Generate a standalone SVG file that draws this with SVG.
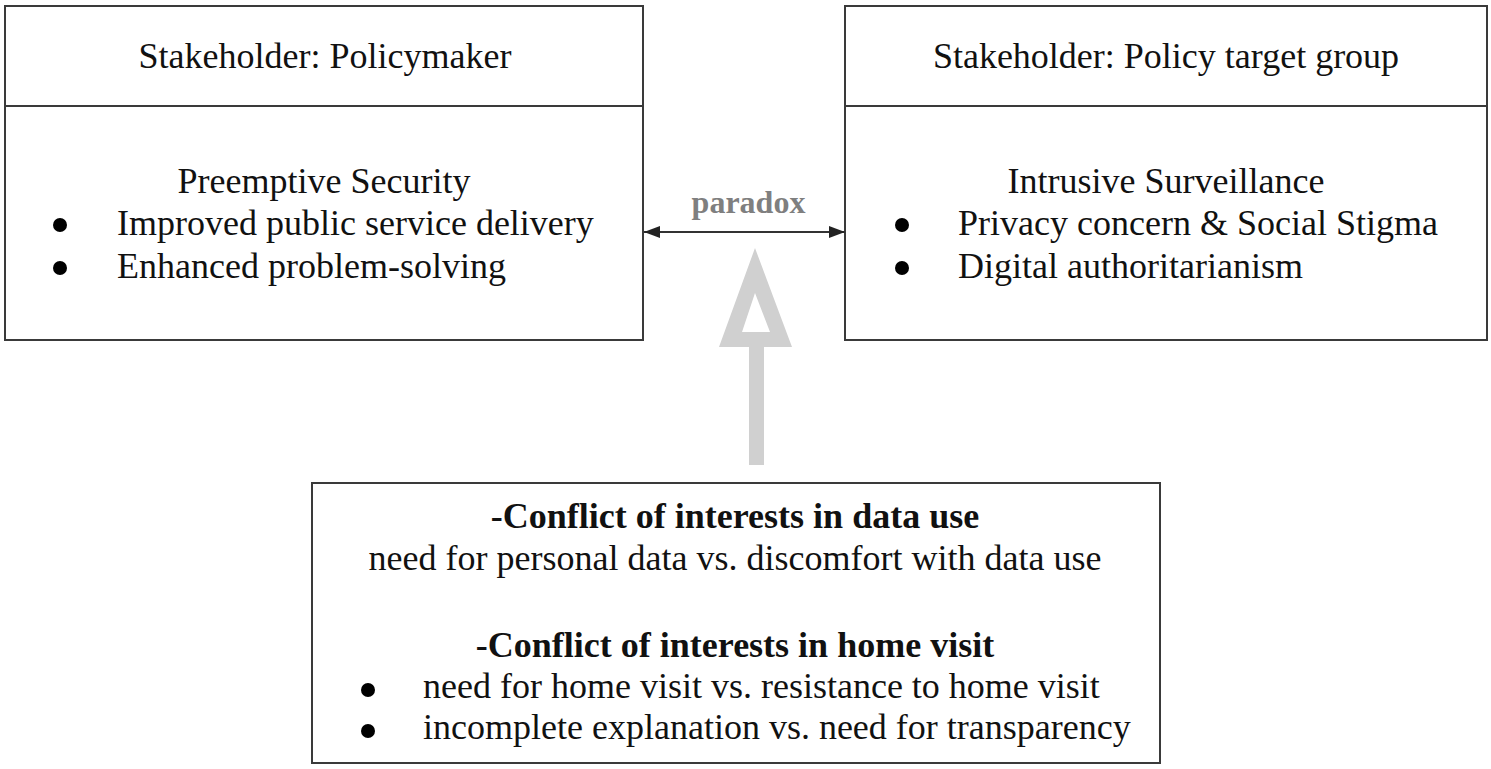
<svg xmlns="http://www.w3.org/2000/svg" width="1491" height="769" viewBox="0 0 1491 769">
<style>
  .box { fill: #ffffff; stroke: #3a3a3a; stroke-width: 2; }
  .div { stroke: #3a3a3a; stroke-width: 2; }
  .t { font-family: "Liberation Serif", "Times New Roman", serif; font-size: 36px; fill: #111111; }
  .b { font-weight: bold; }
  .c { text-anchor: middle; }
  .dot { fill: #000000; }
  .lbl { font-family: "Liberation Serif", "Times New Roman", serif; font-size: 32px; font-weight: bold; fill: #7f7f7f; }
</style>
<defs>
  <marker id="ah" viewBox="0 0 16 12" refX="16" refY="6" markerWidth="16" markerHeight="12" markerUnits="userSpaceOnUse" orient="auto-start-reverse">
    <path d="M0,0 L16,6 L0,12 Z" fill="#222222"/>
  </marker>
</defs>
<rect width="1491" height="769" fill="#ffffff"/>

<g id="policymaker">
  <rect class="box" x="5" y="6" width="638" height="334"/>
  <line class="div" x1="5" y1="106" x2="643" y2="106"/>
  <text class="t c" x="325" y="68">Stakeholder: Policymaker</text>
  <text class="t c" x="324" y="193">Preemptive Security</text>
  <circle class="dot" cx="60" cy="225" r="7"/>
  <text class="t" x="117" y="235">Improved public service delivery</text>
  <circle class="dot" cx="60" cy="268" r="7"/>
  <text class="t" x="117" y="278">Enhanced problem-solving</text>
</g>

<g id="target-group">
  <rect class="box" x="845" y="6" width="642" height="334"/>
  <line class="div" x1="845" y1="106" x2="1487" y2="106"/>
  <text class="t c" x="1166" y="68">Stakeholder: Policy target group</text>
  <text class="t c" x="1166" y="193">Intrusive Surveillance</text>
  <circle class="dot" cx="902" cy="225" r="7"/>
  <text class="t" x="958" y="235">Privacy concern &amp; Social Stigma</text>
  <circle class="dot" cx="902" cy="268" r="7"/>
  <text class="t" x="958" y="278">Digital authoritarianism</text>
</g>

<g id="conflicts">
  <rect class="box" x="312" y="483" width="848" height="280"/>
  <text class="t b c" x="735" y="528">-Conflict of interests in data use</text>
  <text class="t c" x="735" y="570">need for personal data vs. discomfort with data use</text>
  <text class="t b c" x="735" y="657">-Conflict of interests in home visit</text>
  <circle class="dot" cx="368" cy="690" r="7"/>
  <text class="t" x="423" y="698">need for home visit vs. resistance to home visit</text>
  <circle class="dot" cx="368" cy="731" r="7"/>
  <text class="t" x="423" y="739">incomplete explanation vs. need for transparency</text>
</g>

<g id="connectors">
  <line x1="644" y1="232" x2="845" y2="232" stroke="#333333" stroke-width="2" marker-start="url(#ah)" marker-end="url(#ah)"/>
  <text class="lbl" x="748.5" y="213" text-anchor="middle">paradox</text>
  <path fill="#d0d0d0" fill-rule="evenodd" d="M755,248 L792,347 L764,347 L764,465 L749,465 L749,347 L719,347 Z M755,293 L742,332 L770,332 Z"/>
</g>
</svg>
